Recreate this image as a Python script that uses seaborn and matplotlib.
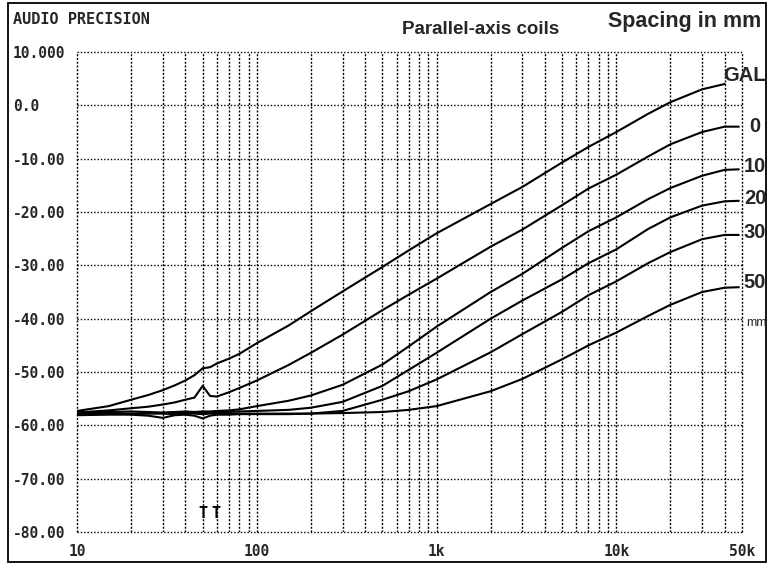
import numpy as np
import pandas as pd
import matplotlib
matplotlib.use("Agg")
import matplotlib.pyplot as plt
from matplotlib.patches import Rectangle
from matplotlib.ticker import FixedLocator, LogLocator, NullFormatter
import seaborn as sns

# Coupling between two parallel-axis coils, measured level vs frequency
freq_hz = [10, 15, 20, 25, 30, 35, 40, 45, 50, 55, 60, 70, 80, 100, 150, 200, 300,
           500, 700, 1000, 2000, 3000, 5000, 7000, 10000, 15000, 20000, 30000, 40000, 48000]

level_gal = [-57.3, -56.4, -55.2, -54.3, -53.4, -52.5, -51.6, -50.6, -49.3, -49.1, -48.4,
             -47.5, -46.6, -44.6, -41.3, -38.6, -34.9, -30.3, -27.2, -24.0, -18.5, -15.3,
             -10.7, -7.8, -5.0, -1.6, 0.6, 3.0, 4.0, np.nan]
level_0 = [-57.6, -57.2, -56.8, -56.5, -56.1, -55.7, -55.2, -54.8, -52.6, -54.5, -54.6,
           -53.8, -53.0, -51.6, -48.7, -46.4, -43.0, -38.4, -35.5, -32.5, -26.5, -23.3,
           -18.7, -15.6, -13.0, -9.6, -7.3, -5.0, -4.0, -4.0]
level_10 = [-57.9, -57.8, -57.8, -57.7, -57.7, -57.6, -57.6, -57.5, -57.4, -57.4, -57.3,
            -57.2, -57.0, -56.4, -55.4, -54.4, -52.4, -48.6, -45.2, -41.5, -35.0, -31.6,
            -26.7, -23.6, -21.0, -17.6, -15.5, -13.2, -12.1, -12.0]
level_20 = [-57.5, -57.5, -57.4, -57.5, -57.6, -57.5, -57.4, -57.5, -57.6, -57.5, -57.5,
            -57.5, -57.4, -57.3, -57.1, -56.7, -55.6, -52.6, -49.6, -46.4, -40.0, -36.6,
            -32.6, -29.6, -27.0, -23.2, -21.0, -18.8, -18.0, -17.9]
level_30 = [-58.1, -58.0, -58.0, -58.2, -58.6, -58.1, -58.0, -58.2, -58.7, -58.2, -58.0,
            -58.0, -57.9, -57.9, -57.9, -57.8, -57.3, -55.2, -53.6, -51.4, -46.3, -42.9,
            -38.7, -35.6, -33.0, -29.6, -27.5, -25.1, -24.3, -24.3]
level_50 = [-57.8, -57.8, -57.9, -57.8, -57.8, -57.9, -57.8, -57.8, -57.9, -57.8, -57.8,
            -57.8, -57.8, -57.8, -57.8, -57.8, -57.7, -57.5, -57.1, -56.4, -53.6, -51.3,
            -47.6, -45.0, -42.6, -39.5, -37.4, -35.0, -34.2, -34.1]

spacings = ["GAL", "0", "10", "20", "30", "50"]
levels = [level_gal, level_0, level_10, level_20, level_30, level_50]

x_ticks = [10, 100, 1000, 10000, 50000]
x_tick_labels = ["10", "100", "1k", "10k", "50k"]
y_ticks = [-80, -70, -60, -50, -40, -30, -20, -10, 0, 10]
y_tick_labels = ["-80.00", "-70.00", "-60.00", "-50.00", "-40.00", "-30.00",
                 "-20.00", "-10.00", "0.0", "10.000"]

# vertical pixel position of each curve label at the right edge
curve_label_y = [76, 126, 167, 199, 232, 283]

frames = []
for name, lv in zip(spacings, levels):
    frames.append(pd.DataFrame({"freq": freq_hz, "level": lv, "coil": name}))
df = pd.concat(frames, ignore_index=True).dropna()

sns.set_theme(style="white")
plt.rcParams["font.family"] = ["DejaVu Sans"]

W, H = 772, 565
fig = plt.figure(figsize=(W / 100, H / 100), dpi=100)
fig.patch.set_facecolor("white")
L, R, T, B = 77, 742, 52, 532
ax = fig.add_axes([L / W, 1 - B / H, (R - L) / W, (B - T) / H])
ax.set_facecolor("white")

sns.lineplot(data=df, x="freq", y="level", units="coil", estimator=None,
             color="black", linewidth=1.5, legend=False, ax=ax)

ax.set_xscale("log")
ax.set_xlim(10, 50000)
ax.set_ylim(-80, 10)
ax.xaxis.set_major_locator(FixedLocator(x_ticks))
ax.xaxis.set_minor_locator(LogLocator(base=10, subs=np.arange(2, 10), numticks=50))
ax.xaxis.set_minor_formatter(NullFormatter())
ax.set_xticklabels(x_tick_labels)
ax.set_yticks(y_ticks)
ax.set_yticklabels(y_tick_labels)
ax.set_xlabel("")
ax.set_ylabel("")

ax.grid(True, which="both", axis="x", color="black",
        linestyle=(0, (1.5, 1.2)), linewidth=1.0)
ax.grid(True, which="major", axis="y", color="black",
        linestyle=(0, (1, 1.4)), linewidth=1.0)
for line in ax.get_xgridlines() + ax.get_ygridlines():
    line.set_clip_on(False)
for s in ax.spines.values():
    s.set_visible(False)

ax.tick_params(axis="both", which="both", length=0)
ax.tick_params(axis="y", pad=46)
ax.tick_params(axis="x", pad=9)
mono = dict(family="DejaVu Sans Mono", weight="bold", size=10.5)
for lab in ax.get_yticklabels():
    lab.set_ha("left")
    lab.set_fontproperties(matplotlib.font_manager.FontProperties(**mono))
for lab in ax.get_xticklabels():
    lab.set_fontproperties(matplotlib.font_manager.FontProperties(**mono))

# generator level markers near the bottom
for fx in (50, 59):
    ax.text(fx, -76.5, "T", ha="center", va="center", family="DejaVu Sans Mono",
            weight="bold", fontsize=11, color="black")

def px(x, y):
    return x / W, 1 - y / H

fig.text(*px(13, 19), "AUDIO PRECISION", ha="left", va="center",
         family="DejaVu Sans Mono", weight="bold", fontsize=11)
fig.text(*px(481, 30), "Parallel-axis coils", ha="center", va="center",
         family="Liberation Sans", weight="bold", fontsize=13.5)
fig.text(*px(685, 22), "Spacing in mm", ha="center", va="center",
         family="Liberation Sans", weight="bold", fontsize=15.5)

for name, yy in zip(spacings, curve_label_y):
    xx = 744 if name == "GAL" else 755
    fig.text(*px(xx, yy), name, ha="center", va="center",
             family="Liberation Sans", weight="bold", fontsize=14.5)
fig.text(*px(756, 323), "mm", ha="center", va="center",
         family="Liberation Sans", fontsize=9)

# outer frame of the plot sheet
fig.add_artist(Rectangle((8 / W, 1 - 562 / H), (766 - 8) / W, (562 - 3) / H,
                         transform=fig.transFigure, fill=False,
                         edgecolor="black", linewidth=1.3))

fig.savefig("out.png", dpi=100, facecolor="white")
